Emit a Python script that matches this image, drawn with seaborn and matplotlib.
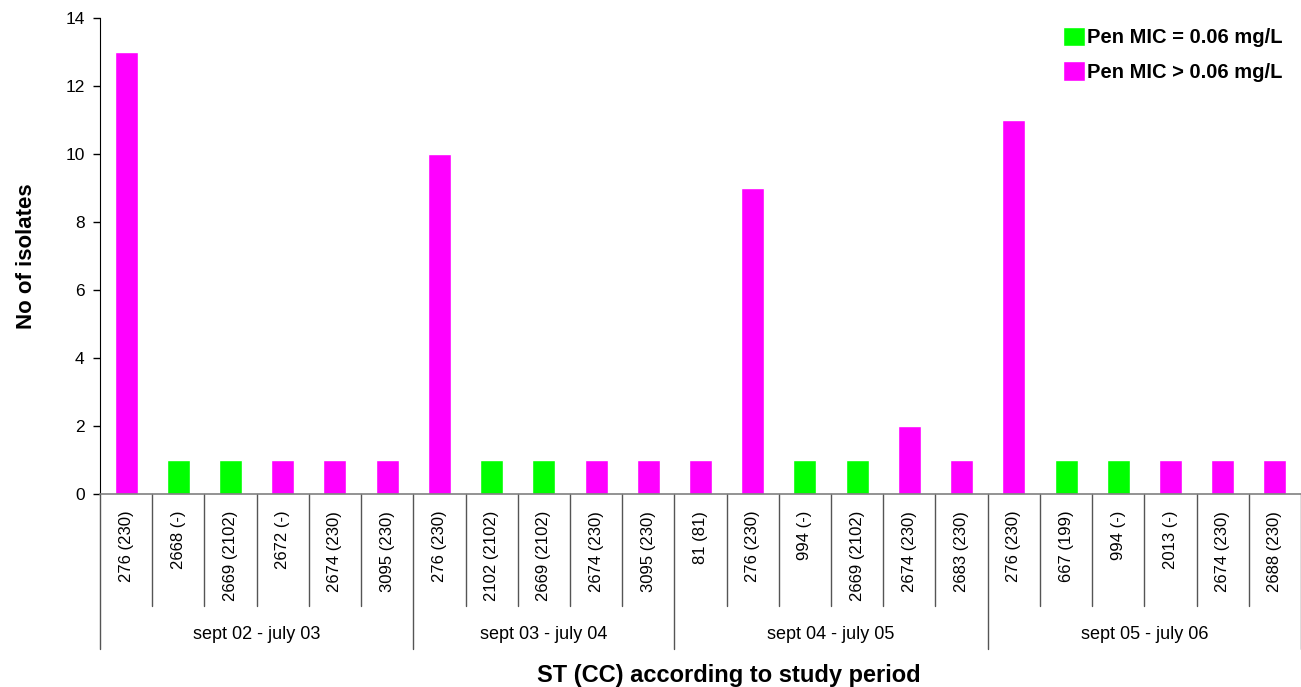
#!/usr/bin/env python3
"""Isolates per ST (CC) and study period, coloured by penicillin MIC."""
import matplotlib

matplotlib.use("Agg")
import matplotlib.pyplot as plt
import pandas as pd
import seaborn as sns

# Data
periods = ["sept 02 - july 03", "sept 03 - july 04", "sept 04 - july 05", "sept 05 - july 06"]
st_labels = [
    ["276 (230)", "2668 (-)", "2669 (2102)", "2672 (-)", "2674 (230)", "3095 (230)"],
    ["276 (230)", "2102 (2102)", "2669 (2102)", "2674 (230)", "3095 (230)"],
    ["81 (81)", "276 (230)", "994 (-)", "2669 (2102)", "2674 (230)", "2683 (230)"],
    ["276 (230)", "667 (199)", "994 (-)", "2013 (-)", "2674 (230)", "2688 (230)"],
]
counts = [
    [13, 1, 1, 1, 1, 1],
    [10, 1, 1, 1, 1],
    [1, 9, 1, 1, 2, 1],
    [11, 1, 1, 1, 1, 1],
]
# True -> Pen MIC = 0.06 mg/L, False -> Pen MIC > 0.06 mg/L
mic_equal = [
    [False, True, True, False, False, False],
    [False, True, True, False, False],
    [False, False, True, True, False, False],
    [False, True, True, False, False, False],
]
legend_eq = "Pen MIC = 0.06 mg/L"
legend_gt = "Pen MIC > 0.06 mg/L"
palette = {legend_eq: "#00FF00", legend_gt: "#FF00FF"}

rows = []
for period, labels, vals, eqs in zip(periods, st_labels, counts, mic_equal):
    for lab, v, eq in zip(labels, vals, eqs):
        rows.append({"period": period, "st": lab, "key": f"{period}|{lab}",
                     "n": v, "mic": legend_eq if eq else legend_gt})
df = pd.DataFrame(rows)

sns.set_style("white")
plt.rcParams["font.family"] = ["Liberation Sans", "DejaVu Sans"]
plt.rcParams["text.color"] = "black"
plt.rcParams["xtick.color"] = "black"
plt.rcParams["ytick.color"] = "black"

fig = plt.figure(figsize=(13.01, 6.87), dpi=100)
ax = fig.add_axes([100 / 1301, 193 / 687, 1201 / 1301, 476 / 687])

sns.barplot(data=df, x="key", y="n", hue="mic", order=list(df["key"]),
            hue_order=[legend_eq, legend_gt], palette=palette, dodge=False,
            width=0.44, saturation=1, ax=ax, legend=True)

ax.set_xlim(-0.5, len(df) - 0.5)
ax.set_ylim(0, 14)
ax.set_yticks(range(0, 15, 2))
ax.tick_params(axis="y", direction="out", length=5, width=1, color="black",
               labelsize=12.5, left=True, pad=6)
ax.set_xticks(range(len(df)))
ax.set_xticklabels(df["st"], rotation=90, fontsize=12, va="top", ha="center")
ax.tick_params(axis="x", length=0, pad=12)
ax.set_xlabel("")
ax.set_ylabel("")

for side in ["top", "right"]:
    ax.spines[side].set_visible(False)
ax.spines["left"].set_color("black")
ax.spines["bottom"].set_color("#808080")
ax.spines["bottom"].set_linewidth(1.2)

# category and group separators below the axis
trans = ax.get_xaxis_transform()
bounds = []
start = 0
for labels in st_labels:
    bounds.append((start, start + len(labels)))
    start += len(labels)
group_edges = {b[0] for b in bounds} | {bounds[-1][1]}
for i in range(len(df) + 1):
    x = i - 0.5
    low = -0.325 if i in group_edges else -0.235
    ax.plot([x, x], [0, low], transform=trans, color="#555555", lw=1, clip_on=False)
for period, (a, b) in zip(periods, bounds):
    ax.text((a + b - 1) / 2, -0.295, period, transform=trans, ha="center",
            va="center", fontsize=13)

fig.text(0.02, 193 / 687 + 238 / 687, "No of isolates", rotation=90,
         ha="center", va="center", fontsize=16, fontweight="bold")
fig.text(0.56, 0.017, "ST (CC) according to study period", ha="center",
         va="center", fontsize=17, fontweight="bold")

leg = ax.legend(loc="upper right", bbox_to_anchor=(1.0, 1.02), frameon=False,
                handlelength=1.1, handleheight=1.1, handletextpad=0.1,
                labelspacing=0.7, prop={"weight": "bold", "size": 14.5})

fig.savefig("out.png", dpi=100)
